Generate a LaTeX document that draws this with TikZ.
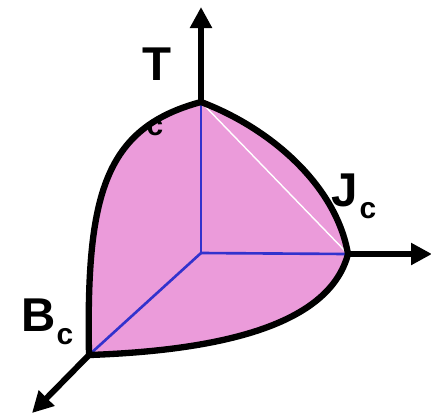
\documentclass[tikz,border=0pt]{standalone}
\usepackage{fontspec}
\setmainfont{Liberation Sans}
\usetikzlibrary{arrows.meta}

\definecolor{surf}{RGB}{235,155,218}
\definecolor{edgeblue}{RGB}{50,50,205}

\tikzset{
  axis/.style={line width=3.4pt, -{Triangle[length=0.42cm, width=0.42cm]}},
  rim/.style={line width=3.6pt, line join=round},
  inner/.style={edgeblue, line width=1.5pt},
  bigl/.style={font=\fontsize{27}{27}\selectfont\bfseries, inner sep=0pt},
  subl/.style={font=\fontsize{17}{17}\selectfont\bfseries, inner sep=0pt}
}

\begin{document}
\begin{tikzpicture}[x=0.02cm, y=-0.02cm]
    \useasboundingbox (0,0) rectangle (431,413);
    % corners of the surface
    \coordinate (O) at (201,253);
    \coordinate (Tc) at (201,102);
    \coordinate (Jc) at (348,254);
    \coordinate (Bc) at (89,355);
    % axis ends
    \coordinate (tend) at (201,7);
    \coordinate (jend) at (432,254);
    \coordinate (bend) at (32,413);

    \fill[surf] (Tc) .. controls (270,128) and (336,185) .. (Jc)
        .. controls (330,322) and (230,350) .. (Bc)
        .. controls (86,195) and (104,128) .. (Tc) -- cycle;
    \draw[inner] (O) -- (Tc);
    \draw[inner] (O) -- (Jc);
    \draw[inner] (O) -- (Bc);
    \draw[white, line width=0.8pt] (Tc) -- (Jc);
    \draw[rim] (Tc) .. controls (270,128) and (336,185) .. (Jc)
        .. controls (330,322) and (230,350) .. (Bc)
        .. controls (86,195) and (104,128) .. (Tc) -- cycle;

    \draw[axis] (Tc) -- (tend);
    \draw[axis] (Jc) -- (jend);
    \draw[axis] (Bc) -- (bend);

    \node[bigl] (tlab) at (157,64) {T};
    \node[subl] (tsub) at (155,128) {c};
    \node[bigl] (jlab) at (345,190) {J};
    \node[subl] (jsub) at (368,211) {c};
    \node[bigl] (blab) at (39,315) {B};
    \node[subl] (bsub) at (65,337) {c};
\end{tikzpicture}
\end{document}
